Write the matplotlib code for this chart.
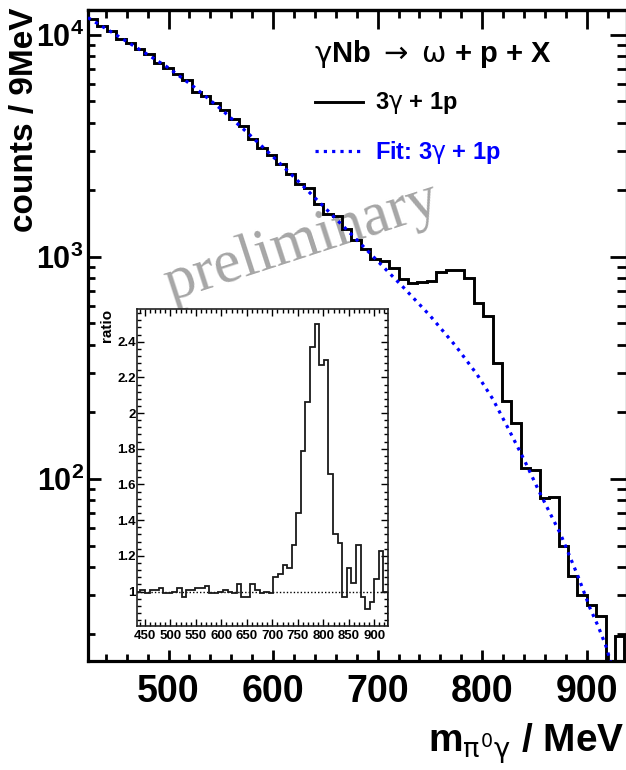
import numpy as np
import matplotlib
matplotlib.use("Agg")
import matplotlib.pyplot as plt
from matplotlib.lines import Line2D
from matplotlib.ticker import MultipleLocator, FixedLocator, NullFormatter, FuncFormatter, LogLocator

plt.rcParams['font.family'] = ['Liberation Sans', 'DejaVu Sans']
plt.rcParams['mathtext.fontset'] = 'custom'
plt.rcParams['mathtext.rm'] = 'DejaVu Sans'
plt.rcParams['mathtext.it'] = 'DejaVu Sans'
plt.rcParams['mathtext.bf'] = 'Liberation Sans:bold'

# ---------------- data ----------------
bin_start = 423
bin_width = 9
counts = [11800, 10900, 10360, 9560, 9190, 8640, 8200, 7475, 7040, 6610,
          6260, 5530, 5310, 4900, 4560, 4170, 3870, 3400, 3100, 2864,
          2626, 2366, 2130, 2030, 1717, 1559, 1517, 1335, 1182, 1081,
          972, 960, 886, 790, 760, 765, 780, 849, 867, 870,
          800, 618, 538, 332, 223, 178, 112, 109, 82, 83,
          49.5, 36.3, 30, 27, 24, 12, 19.5]

fit_mass = [423, 450, 475, 500, 525, 550, 575, 600, 625, 650, 675, 700,
            725, 750, 775, 795, 810, 825, 840, 855, 875, 892, 903, 911,
            919, 923]
fit_counts = [11912, 9954, 8414, 7079, 5781, 4624, 3631, 2818, 2163, 1652,
              1259, 955, 724, 543, 394, 295, 229, 168, 122, 86.5, 56.2,
              36.0, 26.2, 21.6, 17.3, 14.8]

ratio_start = 432
ratio = [1.00, 1.01, 0.99, 1.01, 1.01, 1.02, 0.99, 0.99, 1.00, 1.02,
         0.97, 1.01, 1.01, 1.02, 1.02, 1.03, 0.99, 0.99, 1.00, 1.01,
         1.00, 0.99, 1.04, 0.97, 0.97, 1.04, 1.01, 0.99, 1.00, 0.99,
         1.08, 1.10, 1.15, 1.13, 1.26, 1.44, 1.79, 2.06, 2.37, 2.50,
         2.27, 2.30, 1.66, 1.32, 1.27, 0.97, 1.13, 1.05, 1.26, 0.97,
         0.90, 0.94, 1.07, 1.23, 1.00]

x_major = [500, 600, 700, 800, 900]
inset_x_major = [450, 500, 550, 600, 650, 700, 750, 800, 850, 900]
inset_y_major = [1.0, 1.2, 1.4, 1.6, 1.8, 2.0, 2.2, 2.4]

title_text = r'$\gamma$Nb $\rightarrow$ $\omega$ + p + X'
data_label = r'3$\gamma$ + 1p'
fit_label = r'Fit: 3$\gamma$ + 1p'

# ---------------- figure ----------------
W, H = 626, 770
fig = plt.figure(figsize=(W / 100, H / 100), dpi=100)

def fx(px):
    return px / W

def fy(py):
    return 1 - py / H

ax = fig.add_axes([fx(88), fy(661), fx(627) - fx(88), fy(10) - fy(661)])
ax.set_yscale('log')
ax.set_xlim(423, 938.5)
ax.set_ylim(15.1, 12900)

edges = bin_start + bin_width * np.arange(len(counts) + 1)
ax.stairs(counts, edges, color='black', lw=2.1, zorder=3)
ax.plot(fit_mass, fit_counts, color='#0000ff', lw=2.3,
        linestyle=(0, (1, 1.6)), zorder=4)

for s in ax.spines.values():
    s.set_linewidth(2.3)

ax.xaxis.set_major_locator(FixedLocator(x_major))
ax.xaxis.set_minor_locator(MultipleLocator(20))
ax.yaxis.set_major_locator(FixedLocator([100, 1000, 10000]))
ax.yaxis.set_minor_locator(LogLocator(base=10, subs=np.arange(2, 10)))
ax.yaxis.set_minor_formatter(NullFormatter())
ax.yaxis.set_major_formatter(FuncFormatter(lambda v, p: r'$\mathbf{10^{%d}}$' % round(np.log10(v))))
ax.tick_params(which='both', direction='in', top=False, right=False, width=2.0)
ax.tick_params(axis='x', which='major', length=8, pad=9, labelsize=27)
ax.tick_params(axis='x', which='minor', length=5)
ax.tick_params(axis='y', which='major', length=9, pad=3, labelsize=22)
ax.tick_params(axis='y', which='minor', length=5)
for lab in ax.get_xticklabels():
    lab.set_fontweight('bold')

secx = ax.secondary_xaxis('top')
secx.xaxis.set_major_locator(FixedLocator(x_major))
secx.xaxis.set_minor_locator(MultipleLocator(20))
secx.xaxis.set_major_formatter(NullFormatter())
secx.tick_params(which='both', direction='in', width=2.0)
secx.tick_params(which='major', length=14)
secx.tick_params(which='minor', length=6)
secx.spines['top'].set_linewidth(2.3)

secy = ax.secondary_yaxis('right')
secy.yaxis.set_major_locator(FixedLocator([100, 1000, 10000]))
secy.yaxis.set_minor_locator(LogLocator(base=10, subs=np.arange(2, 10)))
secy.yaxis.set_major_formatter(NullFormatter())
secy.yaxis.set_minor_formatter(NullFormatter())
secy.tick_params(which='both', direction='in', width=2.0)
secy.tick_params(which='major', length=12)
secy.tick_params(which='minor', length=7)

# watermark
ax.text(fx(302), fy(243), 'preliminary', transform=fig.transFigure,
        family=['Liberation Serif', 'DejaVu Serif'], fontsize=44,
        color='#a6a6a6', rotation=18, ha='center', va='center', zorder=1)

# legend (drawn manually)
fig.text(fx(314), fy(54), title_text, fontsize=21, fontweight='bold',
         ha='left', va='center')
fig.add_artist(Line2D([fx(315), fx(363)], [fy(102), fy(102)], color='black', lw=2.1))
fig.text(fx(375), fy(103), data_label, fontsize=17, fontweight='bold',
         ha='left', va='center')
fig.add_artist(Line2D([fx(315), fx(363)], [fy(151), fy(151)], color='#0000ff', lw=2.3,
                      linestyle=(0, (1, 1.6))))
fig.text(fx(375), fy(152), fit_label, fontsize=17, fontweight='bold',
         color='#0000ff', ha='left', va='center')

# axis labels
fig.text(fx(25), fy(8), 'counts / 9MeV', rotation=90, fontsize=24,
         fontweight='bold', ha='center', va='top')
fig.text(fx(625), fy(752), r'm$_{\pi^{0}\gamma}$ / MeV', fontsize=28,
         fontweight='bold', ha='right', va='baseline')

# ---------------- inset ----------------
axi = fig.add_axes([fx(137.3), fy(625.5), fx(388.3) - fx(137.3), fy(309) - fy(625.5)])
axi.set_xlim(435, 927.5)
axi.set_ylim(0.81, 2.583)
r_edges = ratio_start + bin_width * np.arange(len(ratio) + 1)
axi.stairs(ratio, r_edges, color='#1a1a1a', lw=1.3, zorder=3)
axi.axhline(1.0, color='black', lw=1.0, linestyle=(0, (1, 1.5)), zorder=2)
for s in axi.spines.values():
    s.set_linewidth(1.2)
    s.set_color('#222222')
axi.xaxis.set_major_locator(FixedLocator(inset_x_major))
axi.xaxis.set_minor_locator(MultipleLocator(10))
axi.yaxis.set_major_locator(FixedLocator(inset_y_major))
axi.yaxis.set_minor_locator(MultipleLocator(0.04))
axi.yaxis.set_major_formatter(FuncFormatter(lambda v, p: '%g' % round(v, 2)))
axi.tick_params(which='both', direction='in', top=True, right=True, width=1.0)
axi.tick_params(which='major', length=5, labelsize=9.5, pad=3)
axi.tick_params(which='minor', length=3)
axi.tick_params(axis='y', which='major', pad=1)
for lab in axi.get_xticklabels() + axi.get_yticklabels():
    lab.set_fontweight('bold')
fig.text(fx(106.5), fy(309), 'ratio', rotation=90, fontsize=11,
         fontweight='bold', ha='center', va='top')

fig.savefig('out.png', dpi=100)
